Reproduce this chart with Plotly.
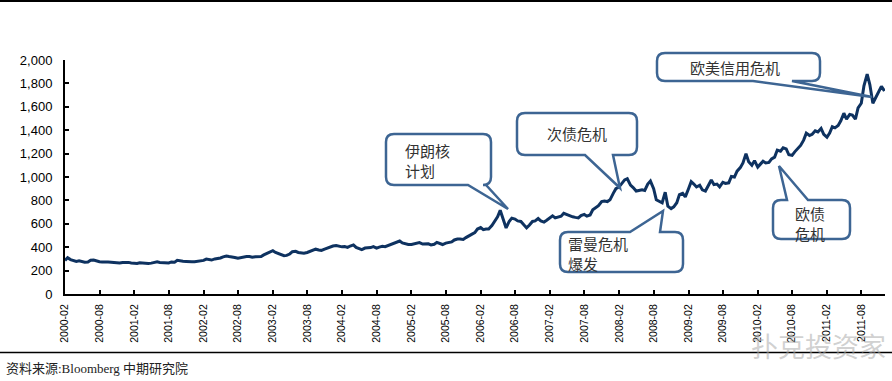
import plotly.graph_objects as go
import pandas as pd

# Gold price (USD/oz), semi-monthly readings (1st and 15th of each month), 2000-02 .. 2011-12
prices = [
    # 2000 Feb-Dec
    287, 310, 294, 287, 279, 283, 276, 272, 273, 288, 290, 282, 276, 273, 276, 273, 272, 271, 265, 265, 270, 272,
    # 2001
    270, 265, 264, 261, 267, 263, 258, 260, 264, 272, 275, 270, 267, 266, 266, 274, 272, 288, 287, 280, 278, 274, 275, 276,
    # 2002
    279, 283, 287, 298, 295, 290, 300, 303, 308, 317, 325, 320, 318, 312, 305, 310, 315, 321, 320, 314, 318, 320, 320, 334,
    # 2003
    345, 357, 370, 355, 346, 335, 327, 330, 342, 362, 365, 355, 349, 349, 355, 362, 375, 383, 376, 373, 384, 393, 403, 410,
    # 2004
    415, 409, 403, 405, 398, 410, 420, 398, 385, 380, 393, 392, 397, 405, 392, 401, 407, 405, 415, 420, 430, 441, 453, 437,
    # 2005
    428, 423, 423, 430, 432, 440, 427, 429, 429, 420, 425, 441, 430, 423, 435, 440, 445, 462, 470, 470, 466, 482, 500, 510,
    # 2006
    525, 555, 568, 550, 555, 555, 585, 620, 660, 715, 635, 565, 620, 648, 640, 625, 620, 590, 565, 588, 620, 625, 645, 625,
    # 2007
    615, 630, 650, 668, 650, 655, 665, 690, 680, 665, 660, 655, 650, 670, 680, 665, 675, 720, 735, 755, 790, 795, 790, 805,
    # 2008
    860, 900, 915, 940, 975, 985, 930, 910, 880, 885, 890, 885, 940, 965, 900, 805, 795, 780, 870, 750, 730, 745, 780, 850,
    # 2009
    860, 830, 900, 960, 940, 915, 930, 890, 880, 925, 975, 935, 940, 915, 955, 945, 950, 1005, 1000, 1050, 1080, 1120, 1200, 1130,
    # 2010
    1100, 1140, 1085, 1110, 1135, 1120, 1125, 1155, 1170, 1230, 1220, 1250, 1240, 1190, 1185, 1215, 1250, 1270, 1315, 1375, 1355, 1365, 1395, 1385,
    # 2011 Jan-Nov + Dec 1
    1415, 1365, 1340, 1375, 1430, 1420, 1440, 1480, 1545, 1495, 1535, 1530, 1495, 1590, 1630, 1780, 1880, 1790, 1630, 1680, 1730, 1775, 1735,
]
dates = pd.date_range("2000-02-01", "2011-12-01", freq="SMS")
assert len(dates) == len(prices), (len(dates), len(prices))

tick_labels = ["2000-02", "2000-08", "2001-02", "2001-08", "2002-02", "2002-08", "2003-02", "2003-08",
               "2004-02", "2004-08", "2005-02", "2005-08", "2006-02", "2006-08", "2007-02", "2007-08",
               "2008-02", "2008-08", "2009-02", "2009-08", "2010-02", "2010-08", "2011-02", "2011-08"]
tick_dates = [lbl + "-01" for lbl in tick_labels]
y_ticks = list(range(0, 2001, 200))

callout_texts = ["伊朗核<br>计划", "次债危机", "雷曼危机<br>爆发", "欧债<br>危机", "欧美信用危机"]

W, H = 892, 381
ML, MR, MT, MB = 65, 7, 60, 87
PW, PH = W - ML - MR, H - MT - MB

def px(x):
    return (x - ML) / PW

def py(y):
    return (H - MB - y) / PH

def bubble(x0, y0, x1, y1, side, b0, b1, tip, r=8):
    def P(x, y):
        return f"{px(x):.5f},{py(y):.5f}"
    d = f"M {P(x0 + r, y0)} "
    if side == "top":
        d += f"L {P(b0, y0)} L {P(*tip)} L {P(b1, y0)} "
    d += f"L {P(x1 - r, y0)} Q {P(x1, y0)} {P(x1, y0 + r)} "
    d += f"L {P(x1, y1 - r)} Q {P(x1, y1)} {P(x1 - r, y1)} "
    if side == "bottom":
        d += f"L {P(b1, y1)} L {P(*tip)} L {P(b0, y1)} "
    d += f"L {P(x0 + r, y1)} Q {P(x0, y1)} {P(x0, y1 - r)} "
    d += f"L {P(x0, y0 + r)} Q {P(x0, y0)} {P(x0 + r, y0)} Z"
    return d

fig = go.Figure()
fig.add_trace(go.Scatter(x=dates, y=prices, mode="lines",
                         line=dict(color="#0E3260", width=3), hoverinfo="x+y"))

bubbles = [
    (386, 134, 491, 185, "bottom", 468, 486, (508, 209)),
    (517, 113, 637, 155, "bottom", 585, 613, (620, 188)),
    (560, 232, 683, 272, "top", 630, 660, (663, 211)),
    (773, 200, 850, 239, "top", 787, 808, (779, 166)),
    (657, 53, 820, 81, "bottom", 753, 792, (872, 97)),
]
text_pos = [(403, 160, "left"), (577, 133, "center"), (566, 253, "left"), (793, 223, "left"), (735, 67, "center")]

shapes = []
for b in bubbles:
    shapes.append(dict(type="path", xref="paper", yref="paper", path=bubble(*b),
                       line=dict(color="#3D6593", width=2.5), fillcolor="white", layer="above"))

shapes.append(dict(type="line", xref="paper", yref="paper", x0=px(0), x1=px(W), y0=py(1), y1=py(1),
                   line=dict(color="black", width=2)))
shapes.append(dict(type="line", xref="paper", yref="paper", x0=px(0), x1=px(W), y0=py(352.5), y1=py(352.5),
                   line=dict(color="black", width=1.5)))

annotations = []
for txt, (tx, ty, al) in zip(callout_texts, text_pos):
    annotations.append(dict(xref="paper", yref="paper", x=px(tx), y=py(ty), text=txt, showarrow=False,
                            xanchor="left" if al == "left" else "center", yanchor="middle", align="left",
                            font=dict(family="Noto Sans CJK SC", size=15, color="#333333")))

annotations.append(dict(xref="paper", yref="paper", x=px(4), y=py(368), text="资料来源:Bloomberg 中期研究院",
                        showarrow=False, xanchor="left", yanchor="middle",
                        font=dict(family="Liberation Serif, Noto Sans CJK SC", size=13, color="#222222")))
annotations.append(dict(xref="paper", yref="paper", x=px(888), y=py(345), text="扑克投资家",
                        showarrow=False, xanchor="right", yanchor="middle",
                        font=dict(family="Noto Sans CJK SC", size=27, color="rgba(170,170,170,0.55)")))

fig.update_layout(
    width=W, height=H, margin=dict(l=ML, r=MR, t=MT, b=MB),
    paper_bgcolor="white", plot_bgcolor="white", showlegend=False,
    shapes=shapes, annotations=annotations,
    xaxis=dict(type="date", range=["2000-02-01", "2011-12-04"], tickvals=tick_dates, ticktext=tick_labels,
               tickangle=-90, ticks="inside", ticklen=4, tickwidth=1.5, tickcolor="black",
               showline=True, linecolor="black", linewidth=2, showgrid=False, zeroline=False,
               ticklabelstandoff=4,
               tickfont=dict(family="Liberation Sans Narrow, Arial Narrow, Liberation Sans", size=10.5, color="black")),
    yaxis=dict(range=[0, 2000], tickvals=y_ticks, tickformat=",", ticks="inside", ticklen=4, tickwidth=1.5,
               tickcolor="black", showline=True, linecolor="black", linewidth=2, showgrid=False, zeroline=False,
               ticklabelstandoff=8,
               tickfont=dict(family="Liberation Sans, Arial", size=13, color="black")),
)

fig.write_html("out.html", config={"displayModeBar": False},
               post_script="document.body.style.margin='0';document.body.style.overflow='hidden';")
